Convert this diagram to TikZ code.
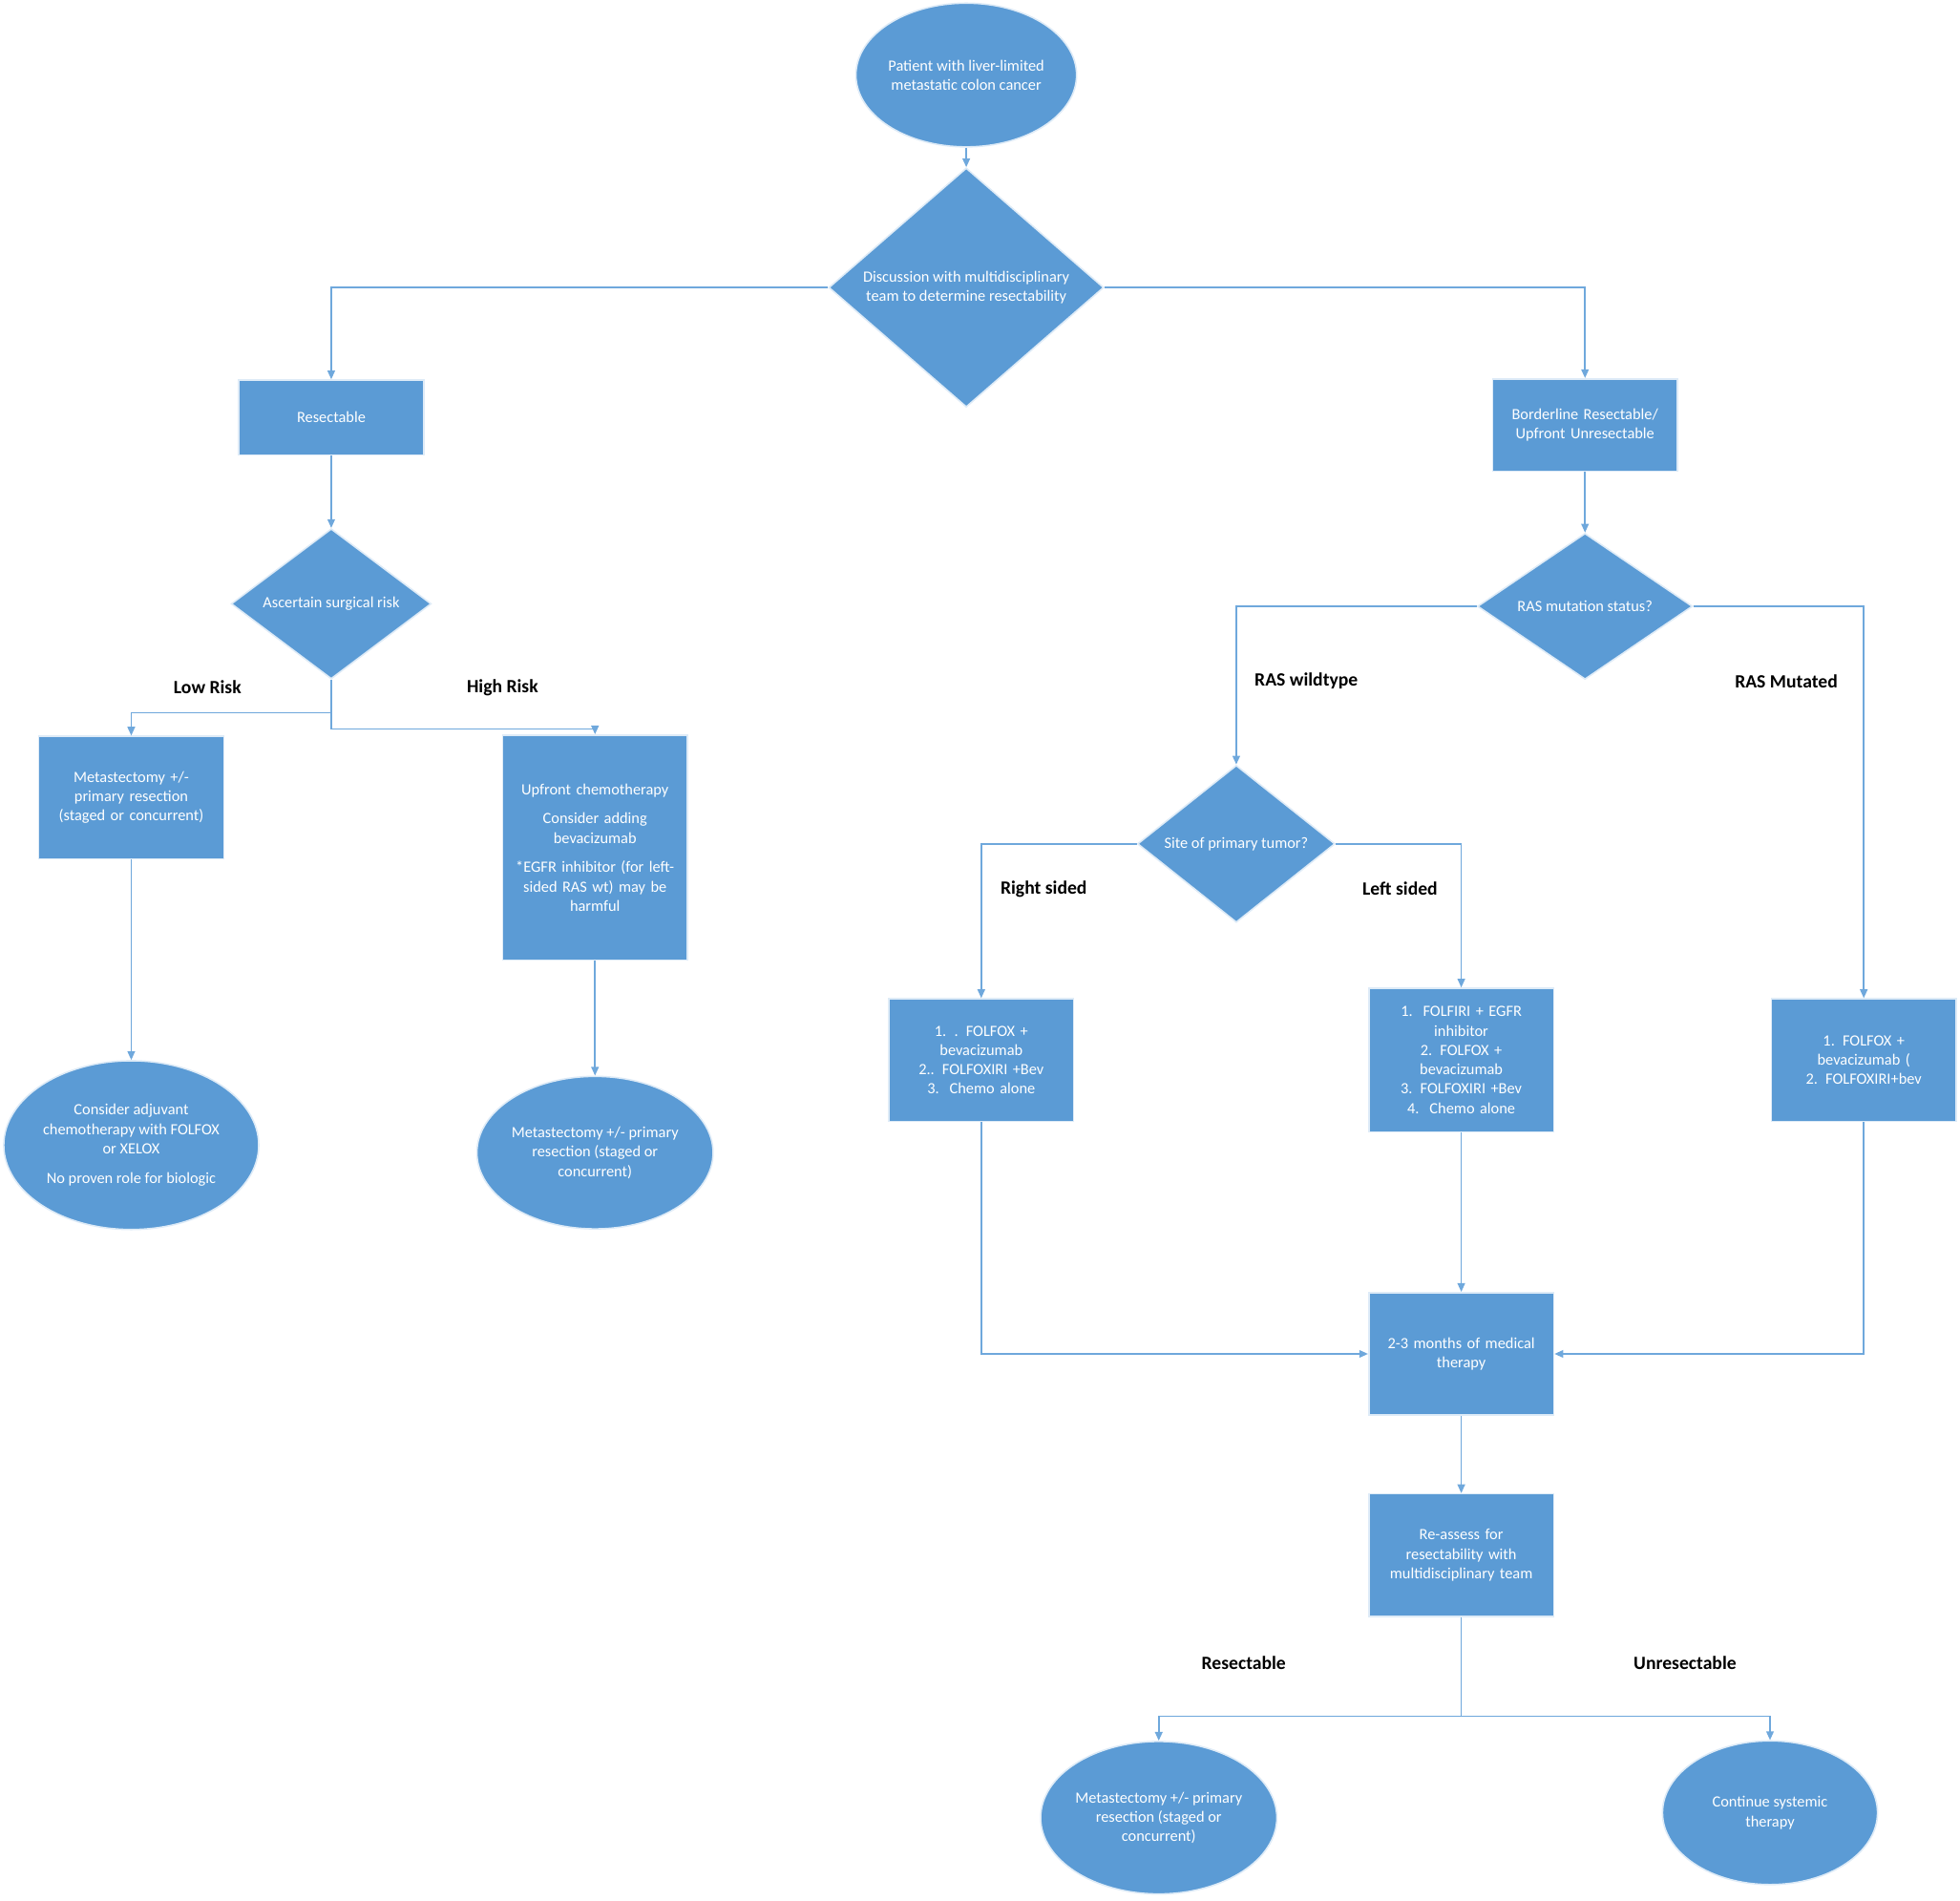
\documentclass[tikz,border=0pt]{standalone}
\usepackage{fontspec}
\setmainfont{Carlito}
\usetikzlibrary{shapes.geometric,arrows.meta}
\definecolor{boxblue}{HTML}{5B9BD5}
\definecolor{lineblue}{HTML}{6FA8DC}
\def\lbl#1{\textbf{#1}}

\begin{document}
\begin{tikzpicture}[x=1pt,y=-1pt,
    every node/.style={font=\fontsize{12.5}{15.5}\selectfont, text=white, align=center},
    box/.style={draw=white!80!boxblue, fill=boxblue, line width=1.2pt, inner sep=2pt},
    rect/.style={box, rectangle, minimum width=148pt, text width=138pt},
    diam/.style={box, diamond, inner sep=0pt},
    ell/.style={box, ellipse, inner sep=0pt},
    conn/.style={draw=lineblue, line width=1.2pt, -{Triangle[length=7pt,width=6pt]}},
    tag/.style={text=black, font=\fontsize{15}{18}\selectfont\bfseries}]
  \useasboundingbox (0,0) rectangle (1568,1520);

  % top
  \node[ell, minimum width=172pt, minimum height=115pt] (start) at (773,60) {Patient with liver-limited\\metastatic colon cancer};
  \node[diam, minimum width=220pt, minimum height=148pt] (mdt) at (773,230) {Discussion with multidisciplinary\\team to determine resectability};
  \node[rect, minimum height=60pt] (res) at (265,334) {Resectable};
  \node[rect, minimum height=74pt] (border) at (1268,340) {Borderline Resectable/\\Upfront Unresectable};

  % left branch
  \node[diam, minimum width=160pt, minimum height=110pt] (risk) at (265,483) {Ascertain surgical risk};
  \node[rect, minimum height=98pt] (meta) at (105,638) {Metastectomy +/-\\primary resection\\(staged or concurrent)};
  \node[rect, minimum height=180pt] (upfront) at (476,678) {Upfront chemotherapy\\[8pt]Consider adding\\bevacizumab\\[8pt]*EGFR inhibitor (for left-\\sided RAS wt) may be\\harmful};
  \node[ell, minimum width=204pt, minimum height=135pt] (adj) at (105,916) {Consider adjuvant\\chemotherapy with FOLFOX\\or XELOX\\[8pt]No proven role for biologic};
  \node[ell, minimum width=185pt, minimum height=122pt] (metaB) at (476,922) {Metastectomy +/- primary\\resection (staged or\\concurrent)};

  % right branch
  \node[diam, minimum width=172pt, minimum height=115pt] (ras) at (1268,485) {RAS mutation status?};
  \node[diam, minimum width=158pt, minimum height=98pt] (site) at (989,675) {Site of primary tumor?};
  \node[rect, minimum height=98pt] (rside) at (785,848) {1. . FOLFOX +\\bevacizumab\\2.. FOLFOXIRI +Bev\\3.\ \ Chemo alone};
  \node[rect, minimum height=115pt] (lside) at (1169,848) {1.\ \ FOLFIRI + EGFR\\inhibitor\\2. FOLFOX +\\bevacizumab\\3. FOLFOXIRI +Bev\\4.\ \ Chemo alone};
  \node[rect, minimum height=98pt] (mut) at (1491,848) {1. FOLFOX +\\bevacizumab (\\2. FOLFOXIRI+bev};
  \node[rect, minimum height=98pt] (med) at (1169,1083) {2-3 months of medical\\therapy};
  \node[rect, minimum height=98pt] (reas) at (1169,1244) {Re-assess for\\resectability with\\multidisciplinary team};
  \node[ell, minimum width=185pt, minimum height=122pt] (metaC) at (927,1454) {Metastectomy +/- primary\\resection (staged or\\concurrent)};
  \node[ell, minimum width=172pt, minimum height=115pt] (cont) at (1416,1450) {Continue systemic\\therapy};

  % labels
  \node[tag] (lowT) at (166,550) {Low Risk};
  \node[tag] (highT) at (402,550) {High Risk};
  \node[tag] (wildT) at (1045,545) {RAS wildtype};
  \node[tag] (mutT) at (1429,545) {RAS Mutated};
  \node[tag] (rightT) at (835,711) {Right sided};
  \node[tag] (leftT) at (1120,711) {Left sided};
  \node[tag] (resT) at (995,1330) {Resectable};
  \node[tag] (unresT) at (1348,1330) {Unresectable};

  % connectors
  \draw[conn] (start) -- (mdt);
  \draw[conn] (mdt.west) -| (res.north);
  \draw[conn] (mdt.east) -| (border.north);
  \draw[conn] (res) -- (risk);
  \coordinate (riskLow) at (265,570);
  \coordinate (riskHigh) at (265,583);
  \draw[conn] (risk.south) -- (riskLow) -| (meta.north);
  \draw[conn] (riskLow) -- (riskHigh) -| (upfront.north);
  \draw[conn] (meta) -- (adj);
  \draw[conn] (upfront) -- (metaB);
  \draw[conn] (border) -- (ras);
  \draw[conn] (ras.west) -| (site.north);
  \draw[conn] (ras.east) -| (mut.north);
  \draw[conn] (site.west) -| (rside.north);
  \draw[conn] (site.east) -| (lside.north);
  \draw[conn] (rside.south) |- (med.west);
  \draw[conn] (lside) -- (med);
  \draw[conn] (mut.south) |- (med.east);
  \draw[conn] (med) -- (reas);
  \coordinate (split) at (1169,1373);
  \draw[conn] (reas.south) -- (split) -| (metaC.north);
  \draw[conn] (split) -| (cont.north);
\end{tikzpicture}
\end{document}
